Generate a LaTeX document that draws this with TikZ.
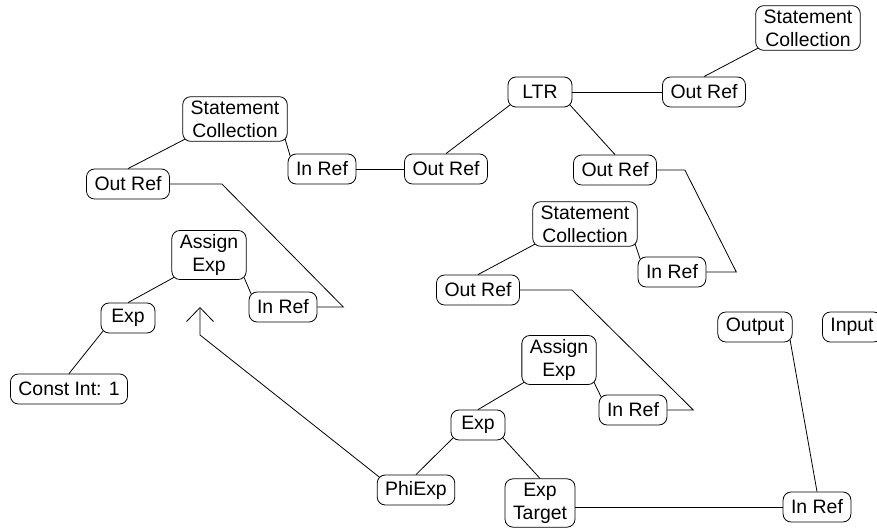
\documentclass[tikz,border=0pt]{standalone}
\usepackage{fontspec}
\setmainfont{Liberation Sans}
\usetikzlibrary{calc,arrows.meta}
\tikzset{
	blk/.style={draw, rounded corners=8bp, align=center, inner xsep=8bp, inner ysep=4bp,
		minimum height=30bp, font=\fontsize{19.5}{23}\selectfont},
	lnk/.style={line width=0.8bp},
	sw/.style={xshift=2.5pt,yshift=2.5pt},
	se/.style={xshift=-2.5pt,yshift=2.5pt},
	nw/.style={xshift=2.5pt,yshift=-2.5pt},
}

\begin{document}
\begin{tikzpicture}[x=1bp,y=-1bp,line width=0.8bp]
	\useasboundingbox (0,0) rectangle (877,531);

	% statement collections and refs
	\node[blk] (SCa) at (808,28) {Statement\\Collection};
	\node[blk] (ORa) at (704,92) {Out Ref};
	\node[blk,minimum width=64bp] (LTR) at (540,92) {LTR};
	\node[blk] (ORb) at (446,169) {Out Ref};
	\node[blk] (ORc) at (615,170) {Out Ref};
	\node[blk] (SCb) at (235,119) {Statement\\Collection};
	\node[blk] (IRb) at (322,169) {In Ref};
	\node[blk] (ORd) at (128,184) {Out Ref};
	\node[blk] (SCc) at (585,224) {Statement\\Collection};
	\node[blk] (IRc) at (672,272) {In Ref};
	\node[blk] (ORe) at (478,290) {Out Ref};

	% expressions
	\node[blk] (AEa) at (209,255) {Assign\\Exp};
	\node[blk] (IRd) at (283,307) {In Ref};
	\node[blk,minimum width=54bp] (EXa) at (128,318) {Exp};
	\node[blk] (CI) at (69,389) {Const Int: 1};
	\node[blk] (AEb) at (559,360) {Assign\\Exp};
	\node[blk] (IRe) at (633,410) {In Ref};
	\node[blk,minimum width=54bp] (EXb) at (478,425) {Exp};
	\node[blk] (PHI) at (416,490) {PhiExp};
	\node[blk] (TGT) at (540,503) {Exp\\Target};
	\node[blk] (IRf) at (817,507) {In Ref};
	\node[blk] (OUT) at (755,327) {Output};
	\node[blk] (INP) at (852,327) {Input};

	\coordinate (bend) at (200,335);
	\coordinate (tip) at (200,307);

	\draw[lnk] ([sw]SCa.south west) -- (ORa.north);
	\draw[lnk] (LTR.east) -- (ORa.west);
	\draw[lnk] ([sw]LTR.south west) -- (ORb.north);
	\draw[lnk] ([se]LTR.south east) -- (ORc.north);
	\draw[lnk] (IRb.east) -- (ORb.west);
	\draw[lnk] ([sw]SCb.south west) -- (ORd.north);
	\draw[lnk] ([se]SCb.south east) -- ([nw]IRb.north west);
	\draw[lnk] (ORd.east) -- ++(52,0) -- ($(IRd.east)+(26,0)$) -- (IRd.east);
	\draw[lnk] ([sw]AEa.south west) -- (EXa.north);
	\draw[lnk] ([se]AEa.south east) -- ([nw]IRd.north west);
	\draw[lnk] ([sw]EXa.south west) -- (CI.north);
	\draw[lnk,-{Straight Barb[length=14bp,width=27bp]}] ([nw]PHI.north west) -- (bend) -- (tip);
	\draw[lnk] (ORc.east) -- ++(28,0) -- ($(IRc.east)+(30,0)$) -- (IRc.east);
	\draw[lnk] ([sw]SCc.south west) -- (ORe.north);
	\draw[lnk] ([se]SCc.south east) -- ([nw]IRc.north west);
	\draw[lnk] (ORe.east) -- ++(52,0) -- ($(IRe.east)+(26,0)$) -- (IRe.east);
	\draw[lnk] ([sw]AEb.south west) -- (EXb.north);
	\draw[lnk] ([se]AEb.south east) -- ([nw]IRe.north west);
	\draw[lnk] ([sw]EXb.south west) -- (PHI.north);
	\draw[lnk] ([se]EXb.south east) -- (TGT.north);
	\draw[lnk] (IRf.west -| TGT.east) -- (IRf.west);
	\draw[lnk] ([se]OUT.south east) -- (IRf.north);
\end{tikzpicture}
\end{document}
